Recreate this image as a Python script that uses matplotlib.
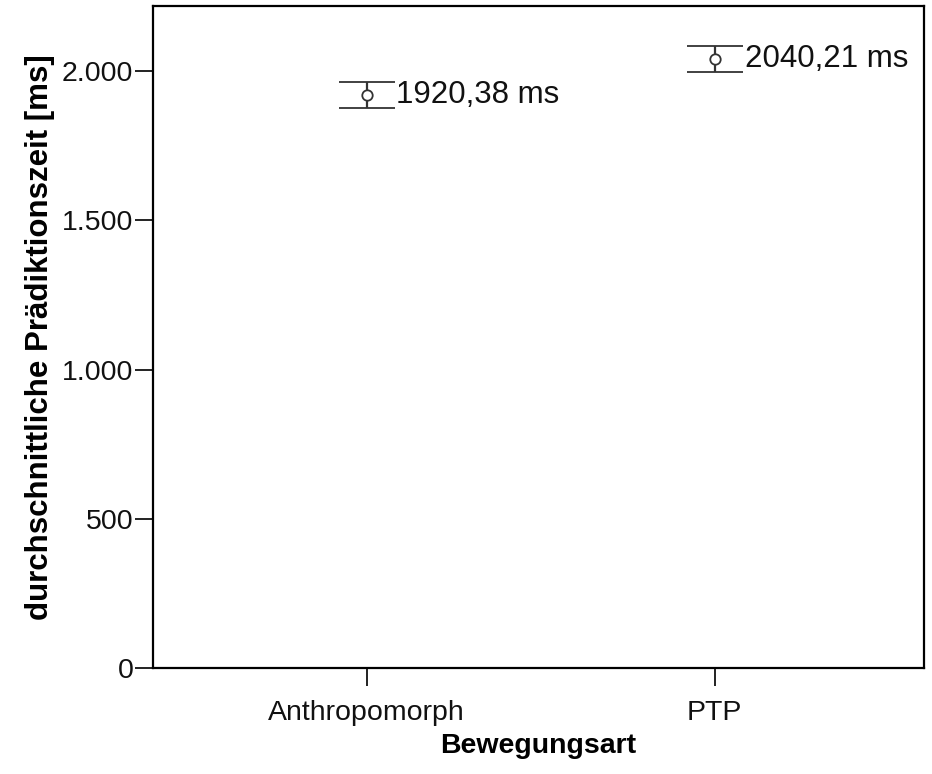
import matplotlib.pyplot as plt
from matplotlib.ticker import FuncFormatter

plt.rcParams["font.family"] = ["Liberation Sans", "DejaVu Sans"]

categories = ["Anthropomorph", "PTP"]
means = [1920.38, 2040.21]
err_lower = [44, 43]
err_upper = [44, 43]
labels = ["1920,38 ms", "2040,21 ms"]
yticks = [0, 500, 1000, 1500, 2000]


def de_thousands(v, pos):
    return f"{int(v):,}".replace(",", ".")


fig = plt.figure(figsize=(9.32, 7.74), dpi=100)
ax = fig.add_axes([0.164, 0.137, 0.827, 0.855])

x = list(range(len(categories)))
ax.errorbar(x, means, yerr=[err_lower, err_upper], fmt="o", mfc="white",
            mec="#333333", mew=1.3, ms=7.5, ecolor="#333333", elinewidth=1.6,
            capsize=20.5, capthick=2.0, color="#333333")
for xi, m, lab in zip(x, means, labels):
    ax.annotate(lab, (xi, m), xytext=(21.5, 0), textcoords="offset points",
                ha="left", va="center", fontsize=22.5, color="#111111")

ax.set_xlim(-0.614, 1.6)
ax.set_ylim(0, 2218)
ax.set_xticks(x)
ax.set_xticklabels(categories)
ax.set_yticks(yticks)
ax.yaxis.set_major_formatter(FuncFormatter(de_thousands))
ax.tick_params(direction="out", length=13, width=1.3, labelsize=20.5,
               colors="#111111")
ax.tick_params(axis="y", pad=1)
ax.tick_params(axis="x", pad=10)

for s in ax.spines.values():
    s.set_linewidth(1.6)

ax.set_xlabel("Bewegungsart", fontsize=20.5, fontweight="bold", labelpad=5)
ax.set_ylabel("durchschnittliche Prädiktionszeit [ms]", fontsize=22.5,
              fontweight="bold", labelpad=5)

fig.savefig("out.png", dpi=100)
